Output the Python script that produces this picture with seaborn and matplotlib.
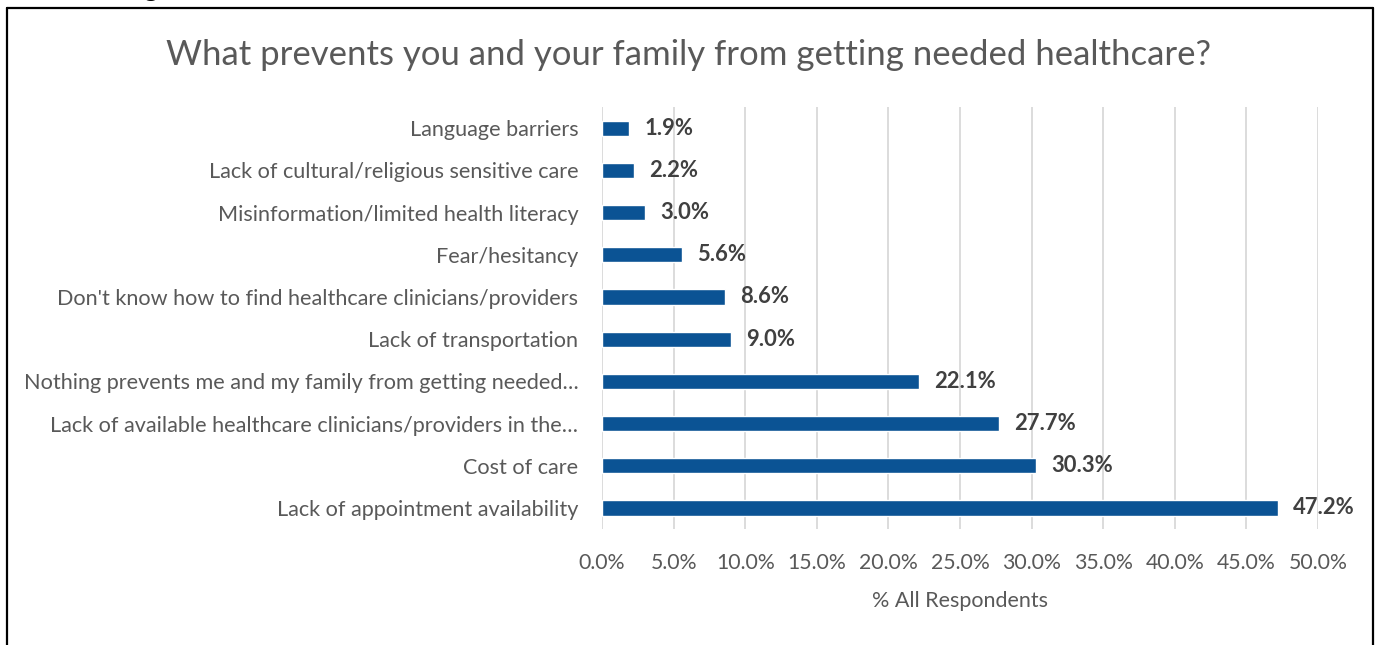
import matplotlib
matplotlib.use("Agg")
import matplotlib.pyplot as plt
import matplotlib.ticker as mticker
from matplotlib.lines import Line2D
import seaborn as sns
import pandas as pd

categories = [
    "Language barriers",
    "Lack of cultural/religious sensitive care",
    "Misinformation/limited health literacy",
    "Fear/hesitancy",
    "Don't know how to find healthcare clinicians/providers",
    "Lack of transportation",
    "Nothing prevents me and my family from getting needed\u2026",
    "Lack of available healthcare clinicians/providers in the\u2026",
    "Cost of care",
    "Lack of appointment availability",
]
values = [1.9, 2.2, 3.0, 5.6, 8.6, 9.0, 22.1, 27.7, 30.3, 47.2]
x_ticks = [0, 5, 10, 15, 20, 25, 30, 35, 40, 45, 50]

title = "What prevents you and your family from getting needed healthcare?"
x_label = "% All Respondents"

df = pd.DataFrame({"barrier": categories, "pct": values})

sns.set_theme(style="white")
plt.rcParams["font.family"] = ["Lato", "DejaVu Sans"]

text_grey = "#595959"
bar_blue = "#0B5394"

fig = plt.figure(figsize=(13.77, 6.45), dpi=100)
ax = fig.add_axes([0.4372, 0.1798, 0.5200, 0.6543])

sns.barplot(data=df, x="pct", y="barrier", orient="h", color=bar_blue,
            saturation=1, width=0.36, ax=ax, zorder=3)

ax.set_xlim(0, 50)
ax.set_xticks(x_ticks)
ax.xaxis.set_major_formatter(mticker.FuncFormatter(lambda v, _: f"{v:.1f}%"))
ax.grid(axis="x", color="#D9D9D9", linewidth=1.3, zorder=0)
ax.set_axisbelow(True)
for s in ax.spines.values():
    s.set_visible(False)

ax.tick_params(axis="y", length=0, pad=17, labelsize=15.6, labelcolor=text_grey)
ax.tick_params(axis="x", length=0, pad=17, labelsize=15.3, labelcolor=text_grey)
ax.set_ylabel("")
ax.set_xlabel(x_label, fontsize=15.5, color=text_grey, labelpad=13)

for bar, v in zip(ax.patches, values):
    y = bar.get_y() + bar.get_height() / 2
    ax.annotate(f"{v:.1f}%", xy=(bar.get_width(), y), xytext=(11, 0),
                textcoords="offset points", va="center", ha="left",
                fontsize=15.8, fontweight="bold", color="#404040")

fig.text(0.5, 1 - 55 / 645, title, ha="center", va="center",
         fontsize=25, color=text_grey)

# frame around the chart
frame_kw = dict(color="black", linewidth=1.6, transform=fig.transFigure)
fig.add_artist(Line2D([7 / 1377, 7 / 1377], [0, 1 - 8 / 645], **frame_kw))
fig.add_artist(Line2D([1373 / 1377, 1373 / 1377], [0, 1 - 8 / 645], **frame_kw))
fig.add_artist(Line2D([7 / 1377, 1373 / 1377], [1 - 8 / 645, 1 - 8 / 645], **frame_kw))

# heading above the frame, mostly cut off by the top edge
fig.text(151 / 1377, 1 + 4 / 645, "g", ha="center", va="baseline",
         fontsize=20, fontweight="bold", color="black")

fig.savefig("out.png", dpi=100)
